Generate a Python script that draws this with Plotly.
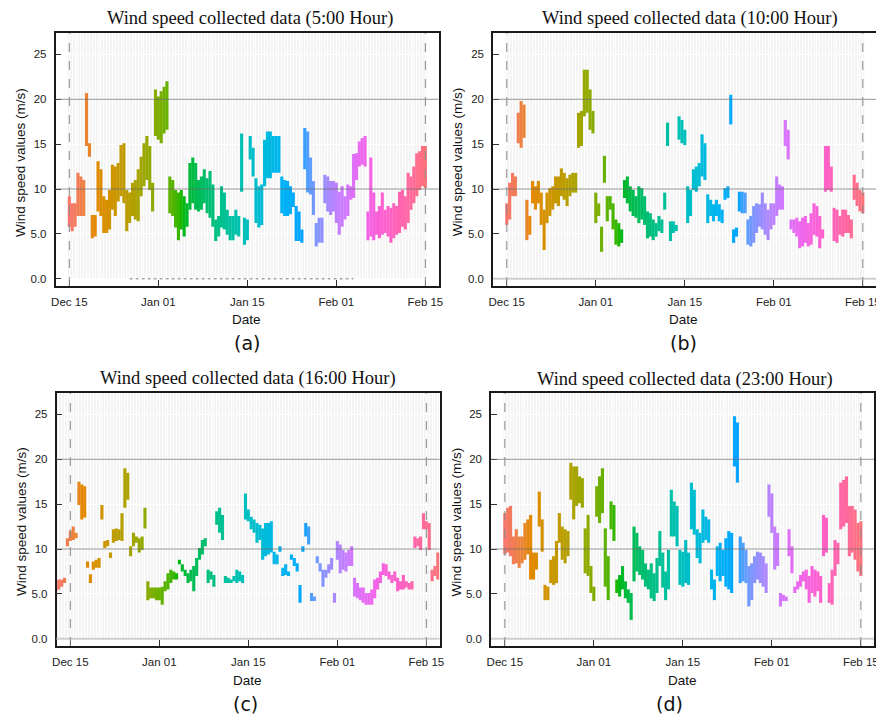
import math
import plotly.graph_objects as go

# ---------------- data (wind speed envelopes per time step, m/s) ----------------
tick_steps = [0, 31, 62, 93, 124]
tick_labels = ["Dec 15", "Jan 01", "Jan 15", "Feb 01", "Feb 15"]
y_ticks = [0, 5, 10, 15, 20, 25]
y_tick_labels = ["0.0", "5.0", "10", "15", "20", "25"]

# Panel (a) 5:00
a_start = 0
a_low = [5.8, 5.3, 5.8, 7.0, 7.0, 7.0, 14.8, 13.6, 4.5, 4.7, 7.5, 7.0, 5.1, 5.1, 5.5, 7.7, 7.0, 8.6, 9.2, 8.4,
         5.3, 6.2, 7.0, 6.6, 6.4, 9.2, 10.3, 11.0, 9.9, 7.5, 15.9, 15.5, 15.1, 16.2, 16.6, 7.3, 7.0, 5.7, 4.3, 5.5,
         4.7, 5.8, 7.7, 8.4, 7.7, 7.5, 7.7, 8.4, 7.3, 6.8, 5.8, 4.2, 4.7, 5.7, 5.5, 4.9, 4.3, 4.3, 4.9, 4.7,
         9.7, 3.8, 4.3, 13.3, 11.4, 6.2, 5.7, 6.0, 10.3, 11.2, 11.2, 11.8, 11.8, 11.8, 7.3, 7.0, 7.0, 7.2, 8.0, 4.2,
         4.2, 4.0, 12.2, 9.6, 9.4, 7.1, 3.6, 4.0, 4.0, 8.4, 7.5, 7.1, 7.5, 6.2, 4.9, 5.8, 6.6, 7.0, 8.8, 9.0,
         11.0, 12.5, 12.7, 12.5, 4.3, 4.7, 4.3, 4.9, 4.5, 4.9, 5.1, 4.7, 4.0, 4.5, 4.9, 5.1, 5.8, 5.5, 6.2, 7.7,
         8.4, 9.2, 9.9, 10.3, 10.1]
a_high = [9.2, 8.4, 8.4, 11.8, 11.4, 11.0, 20.7, 15.1, 7.1, 7.1, 13.1, 12.2, 9.2, 8.8, 9.9, 12.7, 12.5, 12.9, 14.9, 15.1,
          9.9, 9.6, 10.7, 11.0, 12.2, 13.6, 15.1, 15.9, 14.8, 10.7, 21.1, 20.3, 20.9, 21.4, 22.0, 11.4, 11.0, 9.9, 9.6, 9.9,
          9.2, 8.4, 12.9, 13.5, 12.9, 11.0, 11.4, 12.2, 11.2, 12.0, 10.5, 6.6, 7.0, 10.3, 9.6, 7.7, 7.0, 7.0, 7.7, 7.0,
          16.2, 6.8, 6.6, 15.9, 14.6, 11.2, 10.3, 10.5, 15.5, 16.4, 16.4, 15.9, 15.9, 15.9, 11.4, 11.0, 10.9, 10.3, 9.6, 8.1,
          7.5, 5.5, 16.8, 16.4, 13.5, 10.9, 6.2, 6.8, 6.8, 11.6, 11.4, 10.9, 10.9, 10.7, 9.7, 10.3, 9.2, 10.5, 10.3, 13.9,
          14.0, 15.3, 15.7, 15.9, 7.5, 13.5, 9.6, 7.5, 8.1, 9.6, 7.7, 8.1, 7.9, 8.4, 8.1, 9.7, 9.9, 9.2, 11.8, 11.4,
          12.5, 14.0, 14.2, 14.8, 14.8]
a_zero_x = [21, 99]
a_zero_y = [0, 0]

# Panel (b) 10:00
b_start = 0
b_low = [6.0, 6.6, 9.2, 9.2, 15.1, 14.6, 15.7, 4.3, 4.9, 8.4, 7.7, 8.4, 6.0, 3.2, 6.2, 7.0, 7.7, 8.4, 8.1, 9.2,
         8.8, 8.1, 9.2, 9.6, 9.6, 14.6, 14.8, 18.1, 18.5, 16.6, 16.2, 6.2, 7.0, 3.0, 10.7, 6.4, 7.7, 5.5, 3.8, 3.6,
         4.0, 9.0, 8.4, 7.5, 7.0, 6.8, 6.2, 6.6, 6.0, 4.5, 4.7, 4.3, 4.7, 5.3, 5.1, 7.7, 14.8, 4.2, 5.1, 5.3,
         15.5, 15.1, 14.9, 6.2, 7.0, 9.9, 9.7, 10.3, 11.4, 11.0, 6.2, 7.0, 6.4, 7.0, 6.4, 6.2, 8.8, 9.0, 17.2, 4.0,
         4.7, 7.5, 7.3, 7.3, 3.8, 3.6, 4.0, 5.1, 5.8, 5.5, 4.9, 4.3, 5.5, 6.0, 7.0, 7.7, 7.7, 14.8, 13.3, 5.5,
         5.1, 4.7, 3.4, 3.6, 4.0, 3.6, 3.8, 4.9, 4.7, 3.4, 4.5, 9.7, 9.9, 9.7, 4.2, 4.0, 4.9, 4.7, 5.1, 5.1,
         4.5, 8.8, 8.1, 7.5, 7.3]
b_high = [8.4, 10.7, 11.8, 11.4, 18.5, 19.8, 19.4, 8.8, 7.0, 10.9, 10.3, 10.9, 9.6, 7.7, 9.6, 10.1, 10.3, 11.4, 11.4, 12.3,
          11.8, 11.2, 11.6, 11.8, 11.8, 18.5, 18.7, 23.3, 23.3, 21.1, 18.7, 9.6, 8.4, 5.8, 13.7, 9.2, 9.2, 8.4, 6.6, 6.2,
          5.5, 11.0, 11.4, 10.3, 9.9, 9.2, 10.3, 10.1, 9.2, 7.5, 7.3, 6.6, 6.2, 7.0, 6.6, 9.6, 17.4, 6.4, 6.4, 6.0,
          18.1, 17.7, 16.6, 10.3, 9.9, 12.2, 12.5, 12.9, 16.1, 15.1, 9.4, 8.8, 8.3, 8.8, 8.3, 7.7, 10.1, 10.3, 20.5, 5.5,
          5.7, 9.7, 9.7, 9.6, 6.6, 7.0, 8.1, 8.4, 8.3, 9.6, 8.4, 7.7, 8.4, 8.4, 11.4, 10.5, 10.3, 17.7, 16.6, 6.6,
          6.6, 6.8, 6.4, 6.8, 7.0, 6.2, 7.3, 8.4, 8.1, 7.0, 5.5, 14.8, 14.8, 12.5, 7.9, 7.7, 7.0, 7.7, 7.7, 7.1,
          6.6, 11.6, 10.7, 9.9, 9.6]

# Panel (c) 16:00
c_start = -5
c_low = [5.3, 5.5, 5.8, 6.2, 10.3, 10.9, 11.0, 11.2, 14.9, 13.3, 13.5, 7.9, 6.2, 7.7, 7.9, 7.9, 13.3, 10.1, 10.3, 9.0,
         10.7, 10.9, 11.0, 10.9, 14.6, 15.5, 9.2, 10.3, 10.7, 9.6, 9.9, 12.3, 4.3, 4.5, 4.5, 4.3, 4.3, 3.8, 5.3, 5.5,
         6.2, 6.6, 6.6, 8.3, 7.5, 7.0, 6.2, 6.4, 5.3, 7.0, 8.8, 9.4, 10.3, 6.2, 6.6, 5.8, 12.7, 11.8, 11.0, 6.2,
         6.2, 6.2, 6.4, 6.2, 6.4, 6.2, 13.3, 13.1, 12.2, 11.8, 10.7, 11.0, 8.8, 9.2, 9.4, 9.6, 8.3, 8.3, 9.7, 7.0,
         7.1, 7.0, 8.8, 8.1, 7.5, 4.0, 9.7, 11.4, 10.5, 4.2, 4.2, 8.4, 7.5, 5.8, 6.8, 7.3, 7.7, 4.0, 8.8, 7.3,
         7.7, 7.5, 8.1, 8.1, 4.7, 4.5, 4.3, 4.0, 3.8, 3.8, 3.8, 4.5, 5.5, 6.2, 7.1, 7.0, 6.6, 6.2, 6.4, 5.3,
         5.5, 5.5, 5.7, 5.5, 5.5, 10.1, 10.3, 9.9, 12.2, 12.2, 9.9, 6.4, 7.0, 6.6]
c_high = [6.4, 6.6, 6.6, 6.8, 11.2, 12.0, 12.5, 11.8, 17.5, 17.2, 17.0, 8.6, 7.2, 8.6, 8.8, 9.0, 14.9, 10.9, 11.0, 9.6,
          12.2, 12.3, 12.2, 14.0, 19.0, 18.5, 10.3, 11.8, 11.4, 11.2, 11.4, 14.6, 6.4, 5.7, 5.7, 5.7, 5.7, 5.8, 6.4, 7.3,
          7.7, 7.5, 7.3, 8.8, 8.3, 7.7, 7.3, 7.7, 8.1, 9.0, 10.1, 11.0, 11.2, 7.7, 7.5, 7.1, 14.2, 14.6, 13.8, 7.0,
          6.8, 6.6, 7.0, 7.7, 7.5, 7.1, 16.2, 14.4, 13.6, 13.3, 12.9, 12.7, 12.3, 12.9, 12.9, 13.1, 9.7, 9.4, 10.3, 7.9,
          8.3, 7.5, 9.4, 9.0, 8.4, 6.0, 10.3, 12.9, 12.5, 5.1, 4.7, 9.2, 8.4, 7.7, 7.7, 8.3, 9.0, 5.1, 10.9, 10.5,
          9.9, 9.6, 9.9, 10.3, 6.8, 6.2, 5.7, 5.7, 5.1, 5.1, 5.5, 6.6, 6.8, 7.5, 8.4, 8.3, 7.5, 7.1, 7.5, 6.8,
          6.4, 7.1, 6.4, 6.2, 6.4, 11.4, 11.2, 11.4, 14.0, 13.1, 12.9, 7.7, 8.1, 9.6]

# Panel (d) 23:00
d_start = 0
d_low = [9.4, 9.6, 9.2, 8.3, 8.4, 7.9, 8.4, 8.8, 9.4, 6.6, 6.6, 7.7, 12.5, 9.7, 4.3, 4.3, 6.2, 6.0, 6.2, 10.7,
         8.8, 8.4, 9.2, 15.5, 13.3, 14.8, 15.1, 14.6, 7.3, 7.0, 5.1, 4.2, 13.6, 12.9, 14.0, 5.8, 4.3, 12.2, 10.9, 5.1,
         4.7, 5.5, 4.5, 4.0, 2.1, 6.4, 7.5, 7.1, 6.6, 5.8, 5.5, 4.5, 4.2, 5.1, 8.1, 5.7, 4.3, 5.5, 11.4, 11.4,
         10.3, 6.0, 5.8, 6.2, 6.0, 12.2, 11.6, 9.0, 8.4, 10.7, 11.0, 10.7, 5.5, 4.3, 7.0, 6.4, 7.0, 5.8, 5.5, 5.1,
         19.2, 17.4, 6.2, 6.4, 6.2, 3.6, 4.3, 6.2, 6.6, 6.2, 5.8, 5.1, 13.6, 11.8, 7.7, 8.1, 3.6, 4.2, 4.2, 9.2,
         7.3, 5.1, 5.5, 5.8, 6.4, 5.5, 4.0, 5.1, 4.7, 5.3, 4.0, 9.2, 9.6, 4.0, 3.8, 7.0, 8.3, 12.2, 12.5, 12.9,
         9.2, 9.6, 8.8, 7.5, 7.0]
d_high = [14.0, 14.6, 14.8, 11.4, 12.2, 11.4, 11.4, 12.9, 13.3, 13.8, 9.6, 9.6, 16.4, 13.3, 6.0, 5.8, 8.8, 9.2, 10.9, 14.0,
          12.5, 12.2, 12.0, 19.6, 19.2, 19.2, 18.1, 17.9, 12.3, 13.8, 8.1, 5.8, 17.0, 18.1, 19.0, 12.3, 9.2, 15.3, 14.9, 6.6,
          7.1, 8.1, 6.4, 5.5, 5.1, 12.5, 11.8, 10.3, 9.9, 8.4, 7.7, 8.4, 7.3, 9.0, 12.0, 9.6, 7.5, 9.9, 16.6, 15.3,
          14.8, 9.9, 9.7, 11.0, 9.6, 17.4, 16.6, 12.2, 11.8, 14.4, 13.6, 13.3, 7.7, 6.6, 10.3, 10.7, 9.9, 11.2, 12.0, 11.8,
          24.8, 24.1, 11.4, 10.7, 9.9, 8.1, 8.4, 9.2, 9.7, 9.6, 9.2, 8.4, 17.2, 16.2, 12.5, 11.8, 5.1, 4.9, 4.7, 12.2,
          10.3, 5.8, 6.4, 7.1, 7.5, 7.7, 7.0, 8.1, 7.7, 7.5, 7.0, 13.8, 13.5, 6.2, 7.7, 11.0, 10.7, 17.4, 17.7, 18.1,
          14.8, 14.8, 14.4, 12.9, 13.1]

panels = [
    dict(key="a", title="Wind speed collected data (5:00 Hour)", start=a_start, low=a_low, high=a_high, zero_solid=False),
    dict(key="b", title="Wind speed collected data (10:00 Hour)", start=b_start, low=b_low, high=b_high, zero_solid=True),
    dict(key="c", title="Wind speed collected data (16:00 Hour)", start=c_start, low=c_low, high=c_high, zero_solid=True),
    dict(key="d", title="Wind speed collected data (23:00 Hour)", start=d_start, low=d_low, high=d_high, zero_solid=True),
]

# ---------------- layout geometry (target pixels in the 884x718 window) ----------------
OFF = 8                      # default page body margin
W, H = 884 - OFF, 718 - OFF  # figure size so that window coordinates line up
boxes = [  # left, right, top, bottom (window px)
    (52, 439, 33, 286),
    (494, 881, 33, 286),
    (53, 440, 393, 646),
    (492, 879, 393, 646),
]
title_pos = [(248, 19), (693, 19), (246, 378), (688, 379)]
ylab_pos = [(17, 162), (459, 162), (17, 521), (457, 522)]
date_pos = [(245, 319), (686, 319), (246, 680), (685, 680)]
cap_pos = [(245, 343), (686, 343), (244, 704), (672, 704)]
XR = [-4.8, 128.6]
YR = [-0.81, 27.39]


def px(x):
    return (x - OFF) / W


def py(y):
    return 1 - (y - OFF) / H


def hcl_to_hex(h, c=100.0, l=65.0):
    hr = math.radians(h)
    u, v = c * math.cos(hr), c * math.sin(hr)
    Xn, Yn, Zn = 95.047, 100.0, 108.883
    Y = Yn * ((l + 16) / 116) ** 3 if l > 8 else Yn * l / 903.3
    den = Xn + 15 * Yn + 3 * Zn
    un, vn = 4 * Xn / den, 9 * Yn / den
    up, vp = u / (13 * l) + un, v / (13 * l) + vn
    X = 9.0 * Y * up / (4 * vp)
    Z = -X / 3 - 5 * Y + 3 * Y / vp
    X, Y, Z = X / 100, Y / 100, Z / 100
    r = 3.240479 * X - 1.537150 * Y - 0.498535 * Z
    g = -0.969256 * X + 1.875992 * Y + 0.041556 * Z
    b = 0.055648 * X - 0.204043 * Y + 1.057311 * Z

    def gam(t):
        t = 12.92 * t if t <= 0.0031308 else 1.055 * t ** (1 / 2.4) - 0.055
        return max(0, min(255, round(t * 255)))
    return "#%02x%02x%02x" % (gam(r), gam(g), gam(b))


fig = go.Figure()
shapes, annotations = [], []
layout = {}

for i, p in enumerate(panels):
    n = "" if i == 0 else str(i + 1)
    xa, ya = "x" + n, "y" + n
    L, R, T, B = boxes[i]
    xs = list(range(p["start"], p["start"] + len(p["low"])))
    colors = [hcl_to_hex(15 + 360.0 * k / (len(xs) + 1)) for k in range(len(xs))]
    fig.add_trace(go.Bar(
        x=xs, y=[hi - lo for lo, hi in zip(p["low"], p["high"])], base=p["low"],
        width=1.08, marker=dict(color=colors, line=dict(width=0)),
        xaxis=xa, yaxis=ya, showlegend=False, hoverinfo="skip"))
    if p["key"] == "a":
        fig.add_trace(go.Scatter(x=a_zero_x, y=a_zero_y, mode="lines",
                                 line=dict(color="#a8a8a8", width=1.5, dash="dot"),
                                 xaxis=xa, yaxis=ya, showlegend=False, hoverinfo="skip"))

    axfont = dict(family="Liberation Sans, Arial, sans-serif", size=11.5, color="#222")
    layout["xaxis" + n] = dict(
        domain=[px(L), px(R)], range=XR, anchor=ya,
        tickmode="array", tickvals=tick_steps, ticktext=tick_labels,
        ticks="inside", ticklen=6, tickcolor="#333", tickwidth=1,
        showline=True, mirror=True, linecolor="#1a1a1a", linewidth=1.5,
        showgrid=False, zeroline=False, tickfont=axfont, ticklabelstandoff=4,
        minor=dict(tickmode="linear", tick0=0, dtick=1, showgrid=True,
                   gridcolor="white", gridwidth=1, ticks=""),
    )
    layout["yaxis" + n] = dict(
        domain=[py(B), py(T)], range=YR, anchor=xa,
        tickmode="array", tickvals=y_ticks, ticktext=y_tick_labels,
        ticks="inside", ticklen=6, tickcolor="#333", tickwidth=1,
        showline=True, mirror=True, linecolor="#1a1a1a", linewidth=1.5,
        showgrid=True, gridcolor="white", gridwidth=1, zeroline=False,
        tickfont=axfont, ticklabelstandoff=5,
    )

    # light striped background behind the observations
    shapes.append(dict(type="rect", xref=xa, yref=ya, x0=xs[0] - 0.5, x1=xs[-1] + 0.5,
                       y0=0, y1=YR[1], fillcolor="#f4f4f4", line=dict(width=0), layer="below"))
    for yv in (10, 20):
        shapes.append(dict(type="line", xref=xa + " domain", yref=ya, x0=0, x1=1, y0=yv, y1=yv,
                           line=dict(color="rgba(105,105,105,0.7)", width=1), layer="above"))
    if p["zero_solid"]:
        shapes.append(dict(type="line", xref=xa + " domain", yref=ya, x0=0, x1=1, y0=0, y1=0,
                           line=dict(color="#cfcfcf", width=2), layer="above"))
    for xv in (tick_steps[0], tick_steps[-1]):
        shapes.append(dict(type="line", xref=xa, yref=ya + " domain", x0=xv, x1=xv, y0=0, y1=1,
                           line=dict(color="#8a8a8a", width=1, dash="dash"), layer="above"))

    tx, ty = title_pos[i]
    annotations.append(dict(text=p["title"], x=px(tx), y=py(ty), xref="paper", yref="paper",
                            showarrow=False, xanchor="center", yanchor="middle",
                            font=dict(family="Liberation Serif, Times New Roman, serif", size=18.5, color="#111")))
    lx, ly = ylab_pos[i]
    annotations.append(dict(text="Wind speed values (m/s)", x=px(lx), y=py(ly), xref="paper", yref="paper",
                            showarrow=False, textangle=-90, xanchor="center", yanchor="middle",
                            font=dict(family="Liberation Sans, Arial, sans-serif", size=13.5, color="#111")))
    dx, dy = date_pos[i]
    annotations.append(dict(text="Date", x=px(dx), y=py(dy), xref="paper", yref="paper",
                            showarrow=False, xanchor="center", yanchor="middle",
                            font=dict(family="Liberation Sans, Arial, sans-serif", size=13.5, color="#111")))
    cx, cy = cap_pos[i]
    annotations.append(dict(text="(" + p["key"] + ")", x=px(cx), y=py(cy), xref="paper", yref="paper",
                            showarrow=False, xanchor="center", yanchor="middle",
                            font=dict(family="DejaVu Sans, sans-serif", size=19, color="#111")))

fig.update_layout(
    width=W, height=H, margin=dict(l=0, r=0, t=0, b=0),
    paper_bgcolor="white", plot_bgcolor="white",
    barmode="overlay", showlegend=False,
    shapes=shapes, annotations=annotations, **layout,
)

fig.write_html("out.html")
